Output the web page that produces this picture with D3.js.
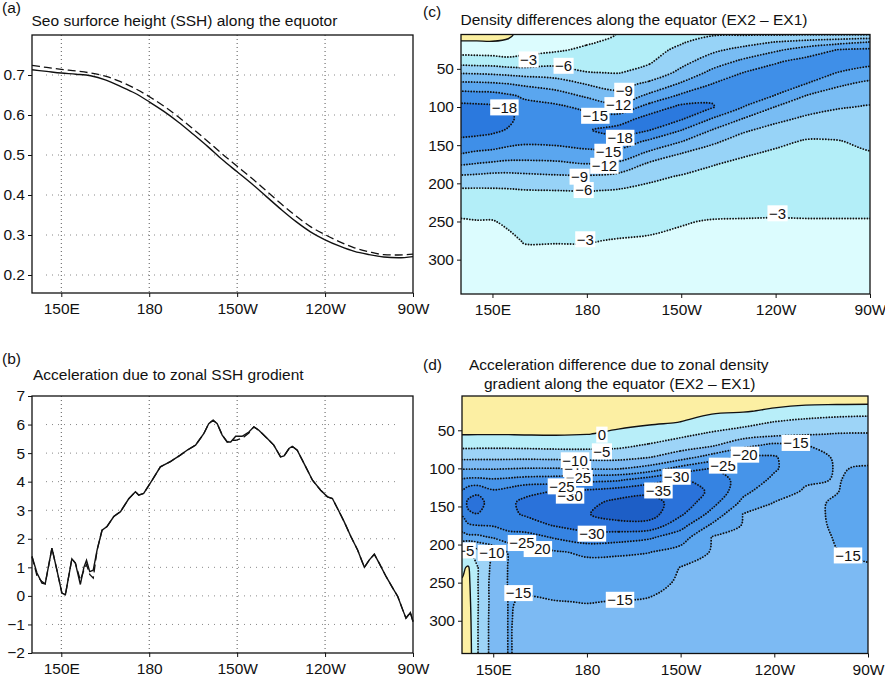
<!DOCTYPE html>
<html>
<head>
<meta charset="utf-8">
<script src="https://cdn.jsdelivr.net/npm/d3@7"></script>
<style>
  body { margin: 0; background: #fff; }
  text { font-family: "Liberation Sans", Arial, Helvetica, sans-serif; fill: #111; }
</style>
</head>
<body>
<script>
// ---- shared axis data ----
var xTicks = [150, 180, 210, 240, 270];
var xTickLabels = ["150E", "180", "150W", "120W", "90W"];
var depthTicks = [50, 100, 150, 200, 250, 300];

// ---- (a) sea surface height along the equator ----
var sshLon = [140, 145, 150, 155, 160, 165, 170, 175, 180, 185, 190, 195, 200, 205, 210, 215, 220, 225, 230, 235, 240, 245, 250, 255, 260, 265, 270];
var sshSolid = [0.713, 0.709, 0.705, 0.702, 0.698, 0.688, 0.672, 0.655, 0.633, 0.609, 0.582, 0.552, 0.521, 0.488, 0.458, 0.428, 0.396, 0.364, 0.334, 0.308, 0.288, 0.272, 0.259, 0.251, 0.245, 0.243, 0.246];
var sshDashed = [0.724, 0.719, 0.714, 0.710, 0.705, 0.697, 0.684, 0.667, 0.646, 0.622, 0.595, 0.565, 0.534, 0.502, 0.472, 0.442, 0.410, 0.378, 0.348, 0.321, 0.301, 0.283, 0.268, 0.258, 0.251, 0.250, 0.252];
var sshTicks = [0.2, 0.3, 0.4, 0.5, 0.6, 0.7];

// ---- (b) acceleration due to zonal SSH gradient ----
var accLon = [140, 141.7, 143.4, 144.5, 146.8, 148.5, 150.2, 151.4, 153.6, 154.8, 156.5, 157.7, 158.6, 159.7, 160.9, 162.2, 163.9, 165.6, 167.9, 170.2, 173, 175.3, 176.4, 178.1, 181, 183.8, 187.2, 190.6, 192.9, 195.8, 198.6, 200.3, 201.8, 203.2, 204.9, 206.6, 207.8, 209.5, 211.7, 214, 215.7, 217.4, 220.3, 222.5, 224.8, 226, 227.7, 228.8, 230.5, 232.8, 235.7, 238.5, 240.8, 242.5, 244.2, 246.5, 248.8, 251.1, 253.4, 255.1, 256.8, 258.5, 260.8, 263.1, 264.8, 266.5, 267.6, 269.1, 270];
var accSolid = [1.38, 0.8, 0.45, 0.42, 1.67, 0.9, 0.1, 0.04, 1.3, 1.15, 0.4, 1.0, 1.25, 0.85, 0.9, 1.6, 2.3, 2.43, 2.78, 2.95, 3.4, 3.65, 3.53, 3.59, 4.05, 4.52, 4.7, 4.93, 5.1, 5.28, 5.68, 6.03, 6.15, 6.03, 5.63, 5.39, 5.39, 5.59, 5.59, 5.74, 5.92, 5.8, 5.51, 5.28, 4.87, 4.9, 5.16, 5.24, 5.1, 4.64, 4.05, 3.7, 3.47, 3.41, 3.07, 2.6, 2.08, 1.61, 1.0, 1.26, 1.46, 1.14, 0.68, 0.27, -0.02, -0.49, -0.78, -0.58, -0.9];
var accDashed = [1.38, 0.7, 0.5, 0.42, 1.67, 0.9, 0.1, 0.04, 1.3, 1.15, 0.55, 0.9, 1.1, 0.75, 0.62, 1.6, 2.3, 2.43, 2.78, 2.95, 3.4, 3.65, 3.53, 3.59, 4.05, 4.52, 4.7, 4.93, 5.1, 5.28, 5.68, 6.03, 6.15, 6.03, 5.63, 5.39, 5.45, 5.45, 5.52, 5.7, 5.92, 5.8, 5.51, 5.28, 4.87, 4.9, 5.16, 5.24, 5.1, 4.64, 4.05, 3.7, 3.47, 3.41, 3.07, 2.6, 2.08, 1.61, 1.0, 1.26, 1.46, 1.14, 0.68, 0.27, -0.02, -0.49, -0.78, -0.58, -0.9];
var accTicks = [-2, -1, 0, 1, 2, 3, 4, 5, 6, 7];

// ---- depth levels of the gridded sections (m) ----
var depthLevels = [5, 15, 25, 40, 55, 70, 85, 100, 115, 130, 145, 160, 175, 190, 210, 230, 250, 275, 300, 345];

// ---- (c) density difference EX2 - EX1, one column per longitude ----
var densLon = [140, 145, 150, 155, 160, 170, 180, 190, 200, 210, 220, 230, 240, 250, 260, 270];
var densCols = [
  [1.0, -0.2, -1.7, -4.6, -8.7, -12.8, -16.4, -18.8, -20.5, -19.1, -17.4, -15.2, -12.2, -8.8, -5.4, -3.8, -2.8, -2.4, -2.0, -1.5],
  [1.0, -0.2, -1.7, -4.4, -8.6, -12.7, -16.2, -18.7, -20.3, -18.9, -17.2, -14.6, -11.8, -8.6, -5.4, -4.0, -2.9, -2.5, -2.0, -1.5],
  [0.8, -0.1, -1.6, -4.3, -8.4, -12.5, -16.1, -18.5, -19.8, -18.6, -16.8, -14.3, -11.4, -8.3, -5.5, -3.9, -2.9, -2.4, -2.0, -1.5],
  [0.5, -0.4, -1.6, -3.8, -8.1, -12.1, -15.4, -18.2, -18.7, -17.8, -16.0, -13.8, -11.1, -8.3, -5.6, -4.5, -3.3, -2.6, -2.2, -1.5],
  [-1.0, -1.6, -2.3, -3.8, -7.8, -11.5, -14.6, -15.9, -16.9, -16.5, -15.5, -13.7, -11.1, -8.5, -5.8, -4.9, -4.1, -3.1, -2.5, -1.7],
  [-1.2, -1.9, -2.6, -4.8, -7.6, -10.5, -13.4, -15.6, -16.8, -17.1, -15.7, -13.8, -11.3, -8.8, -5.9, -5.0, -4.1, -3.1, -2.5, -1.7],
  [-2.0, -2.7, -3.5, -4.8, -6.1, -8.9, -11.5, -14.3, -16.2, -17.8, -16.2, -14.4, -11.9, -8.9, -6.1, -5.0, -4.1, -3.1, -2.5, -1.8],
  [-3.1, -3.6, -4.2, -5.0, -5.9, -7.8, -10.0, -12.7, -16.5, -19.0, -16.9, -14.1, -11.4, -8.3, -5.7, -4.8, -3.8, -2.9, -2.4, -1.8],
  [-4.5, -4.8, -5.2, -5.7, -6.9, -9.8, -12.6, -16.2, -19.1, -18.1, -14.4, -11.5, -8.4, -6.6, -5.3, -4.4, -3.5, -2.8, -2.3, -1.8],
  [-5.5, -5.8, -6.5, -8.0, -9.8, -12.4, -15.5, -18.7, -18.4, -15.1, -12.1, -9.1, -7.3, -5.9, -4.9, -4.0, -3.1, -2.7, -2.3, -1.8],
  [-5.8, -7.0, -8.4, -10.5, -12.8, -15.1, -17.5, -18.2, -14.9, -11.9, -9.5, -7.7, -6.1, -5.4, -4.5, -3.6, -2.9, -2.6, -2.2, -1.8],
  [-5.8, -7.9, -9.9, -12.6, -15.1, -16.6, -16.7, -14.9, -11.9, -9.4, -7.7, -6.3, -5.5, -4.9, -4.1, -3.4, -2.9, -2.5, -2.2, -1.8],
  [-5.8, -9.1, -11.5, -14.6, -16.4, -16.4, -14.9, -11.9, -9.8, -8.0, -6.5, -5.7, -5.2, -4.7, -4.0, -3.3, -2.9, -2.5, -2.2, -1.8],
  [-5.8, -10.1, -13.3, -16.0, -16.4, -14.9, -11.9, -10.2, -8.5, -6.9, -5.8, -5.4, -5.0, -4.5, -3.9, -3.4, -2.9, -2.5, -2.2, -1.8],
  [-5.8, -11.0, -15.1, -16.8, -14.9, -12.4, -10.7, -9.2, -8.0, -6.9, -5.9, -5.4, -5.0, -4.5, -4.0, -3.4, -2.9, -2.5, -2.2, -1.8],
  [-5.8, -12.1, -15.5, -16.2, -13.5, -11.3, -9.9, -8.8, -8.0, -7.3, -6.5, -5.9, -5.3, -4.8, -4.1, -3.4, -2.9, -2.5, -2.2, -1.8]
];
var densLevels = [-18, -15, -12, -9, -6, -3, 0];
var densColors = ["#2b79de", "#3f8fe8", "#5aa6ef", "#78bcf3", "#97d3f7", "#b3eef8", "#dcfcfe", "#fbefa0"];
var densLabels = [
  [161.5, 37.7, "\u22123"], [172.6, 46, "\u22126"], [153.8, 100.5, "\u221218"],
  [191.9, 78.7, "\u22129"], [190.1, 97.5, "\u221212"], [182.7, 111.5, "\u221215"],
  [190.6, 140.3, "\u221218"], [186.9, 158.6, "\u221215"], [185.6, 177, "\u221212"],
  [177.7, 191.3, "\u22129"], [179, 208.8, "\u22126"], [240.6, 239.3, "\u22123"],
  [179.5, 273.3, "\u22123"]
];

// ---- (d) acceleration difference EX2 - EX1, one column per longitude ----
var accdLon = [140, 142, 145, 150, 155, 160, 170, 180, 190, 200, 210, 220, 230, 240, 250, 260, 270];
var accdCols = [
  [4, 3.2, 2.5, 1.3, 0.2, -3.7, -8.6, -14.6, -20.5, -25.5, -27, -25.5, -22.5, -18.1, -7.5, -0.6, 0.3, 0.8, 1.2, 2],
  [4, 3.2, 2.5, 1.3, 0.2, -3.7, -8.6, -14.6, -21, -27.9, -31, -29.3, -24.1, -18.9, -4.1, 0.4, 1.0, 1.5, 2.0, 2.5],
  [4, 3.2, 2.5, 1.3, 0.2, -3.8, -8.7, -14.6, -21.1, -29, -32, -29.9, -24.9, -18.9, -7.8, -4.8, -4.8, -4.7, -4.8, -4.8],
  [4, 3.2, 2.5, 1.3, 0.2, -3.8, -8.7, -14.6, -20.5, -25.7, -27.4, -26.9, -25.3, -20.7, -10.6, -11.5, -12, -12, -12.2, -12.2],
  [4, 3.2, 2.5, 1.3, 0.2, -3.8, -8.7, -14.8, -21, -26.9, -29.4, -29.1, -27, -22.9, -15.6, -15.3, -15.3, -15.2, -15.2, -15.2],
  [4, 3.3, 2.5, 1.4, 0.3, -3.7, -8.7, -15.1, -21.7, -29.1, -30.7, -30.4, -27.9, -22.9, -18, -16.9, -15.7, -14.7, -14.3, -14.2],
  [4, 3.3, 2.6, 1.6, 0.4, -3.4, -8.5, -15.1, -22.2, -30.1, -32.3, -31.9, -30.3, -25.7, -19.5, -17.7, -16.5, -14.9, -14, -13.5],
  [4, 3.2, 2.4, 1.3, 0.1, -3.5, -8.2, -14.5, -23.6, -30.9, -33.7, -34.7, -31.9, -28.2, -20.8, -18.4, -16.9, -15.1, -14, -13.5],
  [3.5, 2.8, 2.0, 0.9, -0.7, -3.9, -8.3, -14.5, -24.3, -32.5, -36.3, -37.2, -33.2, -27.3, -20.7, -18, -16.5, -14.9, -14, -13.5],
  [3, 2.3, 1.6, 0.5, -1.9, -5.6, -9.7, -16.9, -27.5, -34, -36.6, -37.1, -33.1, -25.8, -20.1, -17.6, -16, -14.7, -14, -13.5],
  [2.5, 1.8, 1.1, -0.1, -3.8, -7.6, -12.7, -21.7, -30.7, -32.7, -33.2, -30.8, -26.7, -22.5, -18, -14.9, -14.6, -14.2, -13.8, -13.5],
  [2.2, 1.4, 0.6, -1.8, -5.8, -9.5, -16.9, -25.1, -27.4, -29.2, -26.7, -23.5, -19.2, -14.9, -14.7, -14.4, -14.1, -13.9, -13.8, -13.5],
  [2, 1.2, 0.3, -3.4, -7.5, -13.6, -20.4, -22.6, -23.3, -21.3, -18.8, -14.9, -14.7, -14.5, -14.3, -14.1, -14, -13.9, -13.7, -13.5],
  [2, 0.9, -0.7, -5.4, -8.7, -16.4, -20.4, -20.6, -19, -16.8, -14.9, -14.8, -14.6, -14.4, -14.3, -14.2, -14.1, -13.9, -13.7, -13.5],
  [1.8, 0.5, -2.1, -6.5, -9.6, -15.2, -16.5, -16.4, -15.5, -14.6, -14.4, -14.3, -14.2, -14.2, -14.2, -14.1, -14, -13.9, -13.7, -13.5],
  [1.5, 0.4, -2.9, -7.1, -10.2, -12.4, -14.6, -14.8, -14.85, -14.9, -15.3, -15.4, -15.35, -15.15, -14.95, -14.6, -14.3, -14, -13.8, -13.6],
  [1.4, 0.3, -3.3, -7.3, -10.3, -12.2, -14.1, -15.3, -15.8, -16.3, -16.8, -16.7, -16.2, -15.8, -15.2, -14.9, -14.7, -14.5, -14.2, -13.8]
];
var accdLevels = [-35, -30, -25, -20, -15, -10, -5, 0];
var accdColors = ["#1d5ec6", "#2a72da", "#3583e2", "#4694e9", "#5da7ef", "#7cbaf3", "#9dd4f7", "#b8eef9", "#fcefa3"];
var accdLabels = [
  [184.8, 55.7, "0"], [184.8, 77.6, "\u22125"],
  [176.8, 100.8, "\u221215"], [176.2, 89.4, "\u221210"], [177.3, 112.6, "\u221225"],
  [174.6, 135.8, "\u221230"], [172, 123.6, "\u221225"],
  [141.2, 207.7, "\u22125"], [149.6, 211, "\u221210"],
  [164.3, 205.9, "\u221220"], [159.2, 198, "\u221225"],
  [158.1, 263.7, "\u221215"], [190.6, 272.5, "\u221215"], [181.6, 185.7, "\u221230"],
  [202.9, 129, "\u221235"], [208.7, 111, "\u221230"], [223.6, 96.4, "\u221225"],
  [230.6, 82, "\u221220"], [246.9, 66.6, "\u221215"], [263.6, 214.3, "\u221215"]
];

var svg = d3.select("body").append("svg")
  .attr("width", 885)
  .attr("height", 677);

var minus = function (d) { return d < 0 ? "\u2212" + Math.abs(d) : String(d); };

function axes(g, x, y, box, yTicks, yFmt) {
  var xa = g.append("g")
    .attr("transform", "translate(0," + box.y1 + ")")
    .call(d3.axisBottom(x).tickValues(xTicks)
      .tickFormat(function (d, i) { return xTickLabels[i]; })
      .tickSize(4).tickPadding(6));
  var ya = g.append("g")
    .attr("transform", "translate(" + box.x0 + ",0)")
    .call(d3.axisLeft(y).tickValues(yTicks).tickFormat(yFmt).tickSize(4).tickPadding(3));
  [xa, ya].forEach(function (a) {
    a.select(".domain").remove();
    a.selectAll("line").attr("stroke", "#111").attr("stroke-width", 1);
    a.selectAll("text").attr("fill", "#111").style("font-size", "15.5px")
      .style("font-family", '"Liberation Sans", Arial, sans-serif');
  });
  g.append("rect")
    .attr("x", box.x0).attr("y", box.y0)
    .attr("width", box.x1 - box.x0).attr("height", box.y1 - box.y0)
    .attr("fill", "none").attr("stroke", "#111").attr("stroke-width", 1.3);
}

function linePanel(box, yDomain, yTicks, yFmt, lon, solid, dashed, curve) {
  var g = svg.append("g");
  var x = d3.scaleLinear().domain([140, 270]).range([box.x0, box.x1]);
  var y = d3.scaleLinear().domain(yDomain).range([box.y1, box.y0]);

  // dotted grid
  g.selectAll(".vgrid").data(xTicks.slice(0, -1)).enter().append("line")
    .attr("x1", function (d) { return x(d); }).attr("x2", function (d) { return x(d); })
    .attr("y1", box.y0).attr("y2", box.y1)
    .attr("stroke", "#555").attr("stroke-width", 1).attr("stroke-dasharray", "1,3");
  g.selectAll(".hgrid").data(yTicks.filter(function (d) { return y(d) > box.y0 + 2 && y(d) < box.y1 - 2; }))
    .enter().append("line")
    .attr("x1", box.x0 + 14).attr("x2", box.x1 - 14)
    .attr("y1", function (d) { return y(d); }).attr("y2", function (d) { return y(d); })
    .attr("stroke", "#888").attr("stroke-width", 1).attr("stroke-dasharray", "1,5");

  var line = d3.line()
    .x(function (d, i) { return x(lon[i]); })
    .y(function (d) { return y(d); })
    .curve(curve);

  g.append("path").attr("d", line(dashed))
    .attr("fill", "none").attr("stroke", "#111").attr("stroke-width", 1.3)
    .attr("stroke-dasharray", "8,4");
  g.append("path").attr("d", line(solid))
    .attr("fill", "none").attr("stroke", "#111").attr("stroke-width", 1.4);

  axes(g, x, y, box, yTicks, yFmt);
}

function contourPanel(id, box, depthDomain, lons, cols, levels, colors, labels) {
  var g = svg.append("g");
  var x = d3.scaleLinear().domain([140, 270]).range([box.x0, box.x1]);
  var y = d3.scaleLinear().domain(depthDomain).range([box.y0, box.y1]);

  // row-major grid with one repeated cell of padding on each side
  var nx = lons.length, ny = depthLevels.length;
  var pw = nx + 2, ph = ny + 2;
  var values = [];
  for (var j = 0; j < ph; j++) {
    for (var i = 0; i < pw; i++) {
      var ci = Math.max(0, Math.min(nx - 1, i - 1));
      var cj = Math.max(0, Math.min(ny - 1, j - 1));
      values.push(cols[ci][cj]);
    }
  }
  var lonAt = d3.scaleLinear().domain(d3.range(nx)).range(lons);
  var depAt = d3.scaleLinear().domain(d3.range(ny)).range(depthLevels);
  var toPx = function (p) { return [x(lonAt(p[0] - 1.5)), y(depAt(p[1] - 1.5))]; };
  var smooth = d3.line().curve(d3.curveCatmullRomClosed.alpha(0.5));
  var pathOf = function (mp) {
    return mp.coordinates.map(function (poly) {
      return poly.map(function (ring) { return smooth(ring.slice(0, -1).map(toPx)); }).join("");
    }).join("");
  };
  var bands = d3.contours().size([pw, ph]).thresholds(levels)(values);

  svg.append("clipPath").attr("id", id)
    .append("rect")
    .attr("x", box.x0).attr("y", box.y0)
    .attr("width", box.x1 - box.x0).attr("height", box.y1 - box.y0);
  var plot = g.append("g").attr("clip-path", "url(#" + id + ")");

  plot.append("rect")
    .attr("x", box.x0).attr("y", box.y0)
    .attr("width", box.x1 - box.x0).attr("height", box.y1 - box.y0)
    .attr("fill", colors[0]);
  plot.selectAll(".band").data(bands).enter().append("path")
    .attr("d", pathOf)
    .attr("fill-rule", "evenodd")
    .attr("fill", function (d, k) { return colors[k + 1]; });
  plot.selectAll(".iso").data(bands).enter().append("path")
    .attr("d", pathOf)
    .attr("fill", "none")
    .attr("stroke", "#111")
    .attr("stroke-width", function (d) { return d.value === 0 ? 1.4 : 1.9; })
    .attr("stroke-linecap", function (d) { return d.value === 0 ? "butt" : "round"; })
    .attr("stroke-dasharray", function (d) { return d.value === 0 ? null : "0,2.8"; });

  var lab = plot.append("g");
  labels.forEach(function (l) {
    var cx = x(l[0]), cy = y(l[1]);
    var t = lab.append("text")
      .attr("x", cx).attr("y", cy).attr("dy", "0.36em")
      .attr("text-anchor", "middle")
      .style("font-size", "15px")
      .text(l[2]);
    var bb = t.node().getBBox();
    lab.insert("rect", function () { return t.node(); })
      .attr("x", bb.x - 1.5).attr("y", cy - 8)
      .attr("width", bb.width + 3).attr("height", 16)
      .attr("fill", "#fff");
  });

  axes(g, x, y, box, depthTicks, String);
}

function title(x, y, s) {
  svg.append("text").attr("x", x).attr("y", y).style("font-size", "15.5px").text(s);
}

function main() {
  linePanel({ x0: 32, x1: 413, y0: 35, y1: 293 }, [0.155, 0.8], sshTicks, d3.format(".1f"),
    sshLon, sshSolid, sshDashed, d3.curveMonotoneX);
  linePanel({ x0: 32, x1: 413, y0: 396, y1: 653 }, [-2, 7], accTicks, minus,
    accLon, accSolid, accDashed, d3.curveLinear);
  contourPanel("clipC", { x0: 461, x1: 870, y0: 34.5, y1: 294 }, [5, 345],
    densLon, densCols, densLevels, densColors, densLabels);
  contourPanel("clipD", { x0: 462, x1: 868, y0: 396, y1: 653.5 }, [5, 343],
    accdLon, accdCols, accdLevels, accdColors, accdLabels);

  title(2, 13, "(a)");
  title(31.5, 25.5, "Seo surforce height (SSH) along the equotor");
  title(2, 364, "(b)");
  title(33, 380, "Acceleration due to zonal SSH grodient");
  title(423, 17, "(c)");
  title(460.5, 25, "Density differences along the equator (EX2 \u2013 EX1)");
  title(423, 370, "(d)");
  title(469, 370, "Acceleration difference due to zonal density");
  title(484, 389, "gradient along the equator (EX2 \u2013 EX1)");
}

main();
</script>
</body>
</html>
